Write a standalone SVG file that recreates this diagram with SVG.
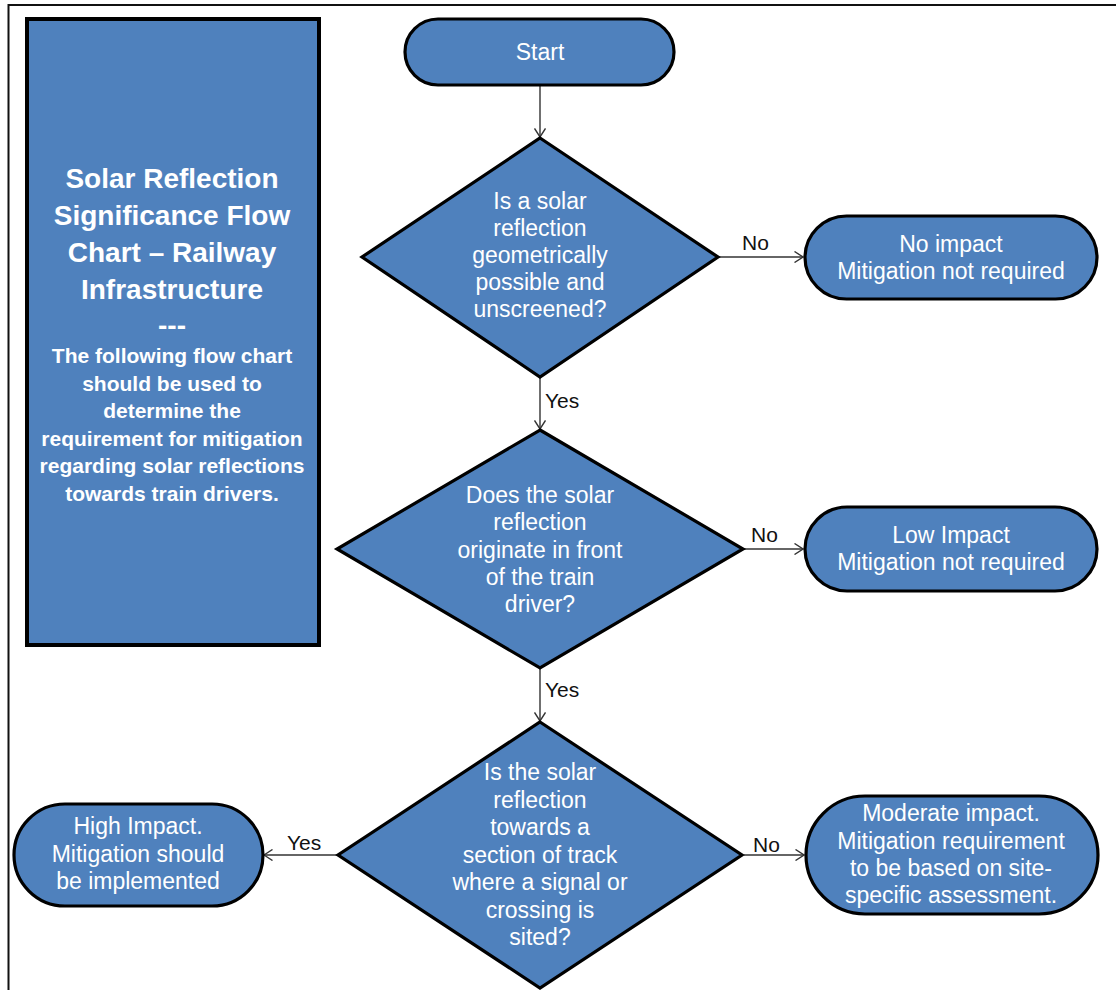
<svg xmlns="http://www.w3.org/2000/svg" width="1116" height="990" viewBox="0 0 1116 990">
<defs>
<style>
.shape{fill:#4F81BD;stroke:#000;stroke-width:3.2}
.nt{font-family:"Liberation Sans",Arial,sans-serif;font-size:23px;fill:#fff;text-anchor:middle}
.tt{font-family:"Liberation Sans",Arial,sans-serif;font-weight:bold;fill:#fff;text-anchor:middle}
.lbl{font-family:"Liberation Sans",Arial,sans-serif;font-size:21px;fill:#111}
.conn{stroke:#333;stroke-width:1.4;fill:none}
</style>
<marker id="arr" viewBox="0 0 10 12" refX="9.5" refY="6" markerWidth="10" markerHeight="12" markerUnits="userSpaceOnUse" orient="auto">
<path d="M1,0.5 L9.5,6 L1,11.5" fill="none" stroke="#333" stroke-width="1.4"/>
</marker>
</defs>
<rect width="1116" height="990" fill="#fff"/>
<g id="frame">
<path d="M8.5,990 L8.5,5 L1116,5" fill="none" stroke="#111" stroke-width="2"/>
</g>
<g id="title">
<rect x="27" y="19" width="292" height="626" fill="#4F81BD" stroke="#000" stroke-width="4"/>
<text class="tt" font-size="28" x="172" y="188">Solar Reflection</text>
<text class="tt" font-size="28" x="172" y="225">Significance Flow</text>
<text class="tt" font-size="28" x="172" y="262">Chart – Railway</text>
<text class="tt" font-size="28" x="172" y="299">Infrastructure</text>
<text class="tt" font-size="28" x="172" y="335">---</text>
<text class="tt" font-size="21" x="172" y="363">The following flow chart</text>
<text class="tt" font-size="21" x="172" y="390.5">should be used to</text>
<text class="tt" font-size="21" x="172" y="418">determine the</text>
<text class="tt" font-size="21" x="172" y="445.5">requirement for mitigation</text>
<text class="tt" font-size="21" x="172" y="473">regarding solar reflections</text>
<text class="tt" font-size="21" x="172" y="500.5">towards train drivers.</text>
</g>
<g id="connectors">
<line class="conn" x1="540" y1="86" x2="540" y2="137" marker-end="url(#arr)"/>
<line class="conn" x1="540" y1="378" x2="540" y2="429" marker-end="url(#arr)"/>
<line class="conn" x1="540" y1="669" x2="540" y2="721" marker-end="url(#arr)"/>
<line class="conn" x1="719" y1="257" x2="803" y2="257" marker-end="url(#arr)"/>
<line class="conn" x1="744" y1="549" x2="803" y2="549" marker-end="url(#arr)"/>
<line class="conn" x1="744" y1="855" x2="804" y2="855" marker-end="url(#arr)"/>
<line class="conn" x1="337" y1="855" x2="264" y2="855" marker-end="url(#arr)"/>
<text class="lbl" x="545" y="408">Yes</text>
<text class="lbl" x="545" y="697">Yes</text>
<text class="lbl" x="742" y="250">No</text>
<text class="lbl" x="751" y="542">No</text>
<text class="lbl" x="753" y="852">No</text>
<text class="lbl" x="287" y="850">Yes</text>
</g>
<g id="start">
<rect class="shape" x="405" y="19" width="269" height="66" rx="33"/>
<text class="nt" x="540" y="60">Start</text>
</g>
<g id="decision1">
<polygon class="shape" points="540,138 718,257 540,377 362,257"/>
<text class="nt" x="540" y="209">Is a solar</text>
<text class="nt" x="540" y="236">reflection</text>
<text class="nt" x="540" y="263">geometrically</text>
<text class="nt" x="540" y="290">possible and</text>
<text class="nt" x="540" y="317">unscreened?</text>
</g>
<g id="noimpact">
<rect class="shape" x="805" y="216" width="292" height="83" rx="41.5"/>
<text class="nt" x="951" y="252">No impact</text>
<text class="nt" x="951" y="279">Mitigation not required</text>
</g>
<g id="decision2">
<polygon class="shape" points="540,430 743,549 540,668 337,549"/>
<text class="nt" x="540" y="503">Does the solar</text>
<text class="nt" x="540" y="530">reflection</text>
<text class="nt" x="540" y="558">originate in front</text>
<text class="nt" x="540" y="585">of the train</text>
<text class="nt" x="540" y="612">driver?</text>
</g>
<g id="lowimpact">
<rect class="shape" x="805" y="507" width="292" height="84" rx="42"/>
<text class="nt" x="951" y="543">Low Impact</text>
<text class="nt" x="951" y="570">Mitigation not required</text>
</g>
<g id="decision3">
<polygon class="shape" points="540,722 742,855 540,988 338,855"/>
<text class="nt" x="540" y="780">Is the solar</text>
<text class="nt" x="540" y="807.5">reflection</text>
<text class="nt" x="540" y="835">towards a</text>
<text class="nt" x="540" y="862.5">section of track</text>
<text class="nt" x="540" y="890">where a signal or</text>
<text class="nt" x="540" y="917.5">crossing is</text>
<text class="nt" x="540" y="945">sited?</text>
</g>
<g id="highimpact">
<rect class="shape" x="14" y="804" width="249" height="102" rx="51"/>
<text class="nt" x="138" y="834">High Impact.</text>
<text class="nt" x="138" y="862">Mitigation should</text>
<text class="nt" x="138" y="889">be implemented</text>
</g>
<g id="moderate">
<rect class="shape" x="806" y="796" width="292" height="118" rx="59"/>
<text class="nt" x="951" y="821">Moderate impact.</text>
<text class="nt" x="951" y="849">Mitigation requirement</text>
<text class="nt" x="951" y="876">to be based on site-</text>
<text class="nt" x="951" y="903">specific assessment.</text>
</g>
</svg>
